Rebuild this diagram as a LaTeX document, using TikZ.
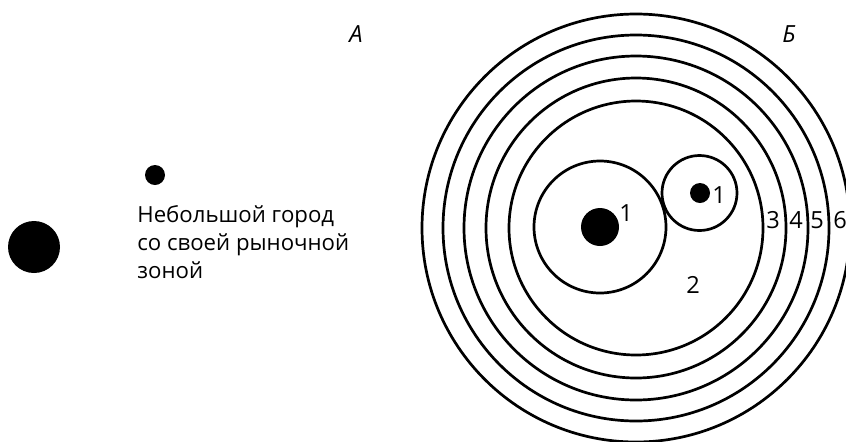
\documentclass[tikz,border=0pt]{standalone}
\usepackage{fontspec}
\setmainfont{Open Sans}
\begin{document}
\begin{tikzpicture}[x=0.5pt, y=-0.5pt,
    zone/.style={draw, circle, line width=1.35pt, inner sep=0pt},
    town/.style={fill=black, circle, inner sep=0pt},
    num/.style={font=\fontsize{11.8}{14}\selectfont, inner sep=0pt},
    letter/.style={font=\fontsize{11.8}{14}\selectfont\itshape, inner sep=0pt},
]
    \useasboundingbox (0,0) rectangle (846,441);

    % Part A: big city and small town
    \node[letter] (labA) at (356,34) {А};
    \node[town, minimum size=26pt] (bigA) at (34,247) {};
    \node[town, minimum size=10pt] (smallA) at (155,175) {};
    \node[align=left, anchor=base west, inner sep=0pt, font=\fontsize{11.1}{14}\selectfont] (textA) at (137,278) {Небольшой город\\со своей рыночной\\зоной};

    % Part B: market zones around the city
    \node[letter] (labB) at (789,34) {Б};
    \foreach \r/\n in {214/6, 193/5, 172/4, 150/3, 127/2}
        \node[zone, minimum size=\r pt] (zone\n) at (636,228) {};
    \node[zone, minimum size=66pt] (zoneBig) at (600,227) {};
    \node[zone, minimum size=37.5pt] (zoneSmall) at (699.5,193) {};
    \node[town, minimum size=19pt] (bigB) at (600,227) {};
    \node[town, minimum size=10pt] (smallB) at (700,193) {};

    % Zone numbers
    \node[num] (n1a) at (626,213) {1};
    \node[num] (n1b) at (719,195) {1};
    \node[num] (n2) at (693,285) {2};
    \node[num] (n3) at (773,220) {3};
    \node[num] (n4) at (796,220) {4};
    \node[num] (n5) at (817,220) {5};
    \node[num] (n6) at (840,220) {6};
\end{tikzpicture}
\end{document}
